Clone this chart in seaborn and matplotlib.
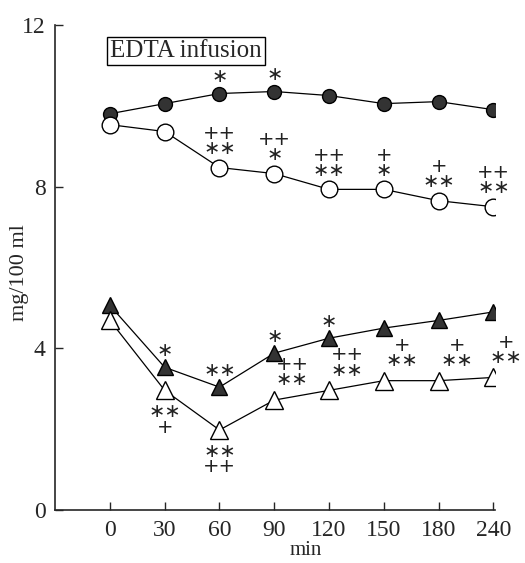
import pandas as pd
import matplotlib
matplotlib.use("Agg")
import matplotlib.pyplot as plt
import seaborn as sns

# time points (min), treated as evenly spaced categories
times = ["0", "30", "60", "90", "120", "150", "180", "240"]

# values (mg/100 ml)
filled_circle = [9.8, 10.05, 10.3, 10.35, 10.25, 10.05, 10.1, 9.9]
open_circle = [9.53, 9.36, 8.47, 8.32, 7.93, 7.93, 7.65, 7.5]
filled_triangle = [5.06, 3.53, 3.04, 3.88, 4.25, 4.5, 4.69, 4.9]
open_triangle = [4.69, 2.96, 1.98, 2.72, 2.96, 3.2, 3.2, 3.28]

# significance marks: (time index, text, where)
filled_circle_marks = [(2, "∗", "above"), (3, "∗", "above")]
open_circle_marks = [(2, "++\n∗∗", "above"), (3, "++\n∗", "above"),
                     (4, "++\n∗∗", "above"), (5, "+\n∗", "above"),
                     (6, "+\n∗∗", "above"), (7, "++\n∗∗", "above")]
filled_triangle_marks = [(1, "∗", "above"), (2, "∗∗", "above"),
                         (3, "∗", "above"), (4, "∗", "above")]
open_triangle_marks = [(1, "∗∗\n+", "below"), (2, "∗∗\n++", "below"),
                       (3, "++\n∗∗", "right"), (4, "++\n∗∗", "right"),
                       (5, "+\n∗∗", "right"), (6, "+\n∗∗", "right"),
                       (7, "+\n∗∗", "edge")]

sns.set_style("ticks")
plt.rcParams["font.family"] = ["Liberation Serif", "DejaVu Serif"]

fig = plt.figure(figsize=(5.25, 5.63), dpi=100)
ax = fig.add_axes([0.105, 0.094, 0.838, 0.862])

series = [
    (filled_circle, "o", "#333333", 10, filled_circle_marks),
    (open_circle, "o", "white", 12, open_circle_marks),
    (filled_triangle, "^", "#333333", 12, filled_triangle_marks),
    (open_triangle, "^", "white", 13, open_triangle_marks),
]

for vals, mk, face, ms, marks in series:
    df = pd.DataFrame({"min": times, "val": vals})
    sns.pointplot(data=df, x="min", y="val", order=times, errorbar=None,
                  markers=mk, color="black", markersize=ms,
                  markerfacecolor=face, markeredgecolor="black",
                  markeredgewidth=1.0, linewidth=0.9, ax=ax)
    for i, txt, where in marks:
        if where == "above":
            off = (0, 12 if "\n" not in txt else 19)
        elif where == "below":
            off = (0, -21)
        elif where == "edge":
            off = (9, 20)
        else:
            off = (13, 20)
        ax.annotate(txt, xy=(i, vals[i]), xytext=off, textcoords="offset points",
                    ha="center", va="center", fontsize=14, linespacing=0.75,
                    family=["DejaVu Sans"], color="#222222")

ax.set_xlim(-1.0, 7.03)
ax.set_ylim(0, 12)
ax.set_yticks([0, 4, 8, 12])
ax.tick_params(direction="in", length=6, width=1, labelsize=17, pad=7)
ax.set_xlabel("min", fontsize=15, va="center")
ax.xaxis.set_label_coords(0.57, -0.083)
ax.set_ylabel("mg/100 ml", fontsize=16, va="center")
ax.yaxis.set_label_coords(-0.08, 0.49)
sns.despine(ax=ax)
for s in ["left", "bottom"]:
    ax.spines[s].set_linewidth(1.2)

ax.text(0.125, 0.945, "EDTA infusion", transform=ax.transAxes, fontsize=18,
        va="center", ha="left",
        bbox=dict(boxstyle="square,pad=0.12", fc="white", ec="black", lw=1))

fig.savefig("out.png", dpi=100)
